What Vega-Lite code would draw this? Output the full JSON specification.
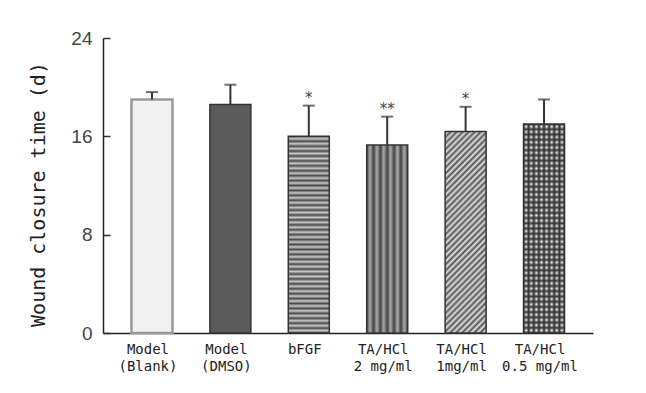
{
  "$schema": "https://vega.github.io/schema/vega-lite/v6.json",
  "width": 490,
  "height": 295,
  "autosize": "none",
  "padding": {"left": 103, "top": 38, "right": 53, "bottom": 60},
  "background": "white",
  "config": {"view": {"stroke": null}},
  "data": {
    "values": [
      {"group": "Model|(Blank)", "mean": 19.0, "hi": 19.6, "sig": ""},
      {"group": "Model|(DMSO)", "mean": 18.6, "hi": 20.2, "sig": ""},
      {"group": "bFGF", "mean": 16.0, "hi": 18.5, "sig": "*"},
      {"group": "TA/HCl|2 mg/ml", "mean": 15.3, "hi": 17.6, "sig": "**"},
      {"group": "TA/HCl|1mg/ml", "mean": 16.4, "hi": 18.4, "sig": "*"},
      {"group": "TA/HCl|0.5 mg/ml", "mean": 17.0, "hi": 19.0, "sig": ""}
    ]
  },
  "encoding": {
    "x": {
      "field": "group", "type": "nominal",
      "scale": {"domain": ["Model|(Blank)", "Model|(DMSO)", "bFGF", "TA/HCl|2 mg/ml", "TA/HCl|1mg/ml", "TA/HCl|0.5 mg/ml"], "paddingInner": 0.477, "paddingOuter": 0.363},
      "axis": {"title": null, "labelAngle": 0, "labelExpr": "split(datum.label, '|')", "ticks": false, "domainColor": "#222", "domainWidth": 1.5, "labelFont": "DejaVu Sans Mono", "labelFontSize": 14, "labelColor": "#222", "labelPadding": 9, "labelLineHeight": 17, "labelBaseline": "top", "labelOffset": -4}
    }
  },
  "layer": [
    {
      "transform": [{"filter": "datum.group == 'Model|(Blank)'"}],
      "mark": {"type": "bar", "fill": "#f2f2f2", "stroke": "#999", "strokeWidth": 2.5},
      "encoding": {
        "y": {"field": "mean", "type": "quantitative", "scale": {"domain": [0, 24], "nice": false},
          "axis": {"values": [0, 8, 16, 24], "grid": false, "tickSize": -7, "tickColor": "#333", "tickWidth": 1.5, "labelPadding": 18, "domainColor": "#222", "domainWidth": 1.5, "labelFont": "Liberation Sans", "labelFontSize": 19, "labelColor": "#444", "title": "Wound closure time (d)", "titleFont": "DejaVu Sans Mono", "titleFontSize": 20, "titleFontWeight": "normal", "titleColor": "#222", "titleX": -65, "titleY": 156, "titleAngle": -90, "titleAlign": "center", "titleBaseline": "middle"}
        }
      }
    },
    {
      "transform": [{"filter": "datum.group == 'Model|(DMSO)'"}],
      "mark": {"type": "bar", "fill": "#5a5a5a", "stroke": "#333", "strokeWidth": 1.5},
      "encoding": {"y": {"field": "mean", "type": "quantitative"}}
    },
    {
      "transform": [{"filter": "datum.group == 'bFGF'"}],
      "mark": {"type": "bar", "stroke": "#333", "strokeWidth": 1.5,
        "fill": {"gradient": "linear", "x1": 0, "y1": 0, "x2": 0, "y2": 1, "stops": [
          {"offset": 0, "color": "#4a4a4a"}, {"offset": 0.0125, "color": "#c8c8c8"}, {"offset": 0.025, "color": "#4a4a4a"}, {"offset": 0.0375, "color": "#c8c8c8"},
          {"offset": 0.05, "color": "#4a4a4a"}, {"offset": 0.0625, "color": "#c8c8c8"}, {"offset": 0.075, "color": "#4a4a4a"}, {"offset": 0.0875, "color": "#c8c8c8"},
          {"offset": 0.1, "color": "#4a4a4a"}, {"offset": 0.1125, "color": "#c8c8c8"}, {"offset": 0.125, "color": "#4a4a4a"}, {"offset": 0.1375, "color": "#c8c8c8"},
          {"offset": 0.15, "color": "#4a4a4a"}, {"offset": 0.1625, "color": "#c8c8c8"}, {"offset": 0.175, "color": "#4a4a4a"}, {"offset": 0.1875, "color": "#c8c8c8"},
          {"offset": 0.2, "color": "#4a4a4a"}, {"offset": 0.2125, "color": "#c8c8c8"}, {"offset": 0.225, "color": "#4a4a4a"}, {"offset": 0.2375, "color": "#c8c8c8"},
          {"offset": 0.25, "color": "#4a4a4a"}, {"offset": 0.2625, "color": "#c8c8c8"}, {"offset": 0.275, "color": "#4a4a4a"}, {"offset": 0.2875, "color": "#c8c8c8"},
          {"offset": 0.3, "color": "#4a4a4a"}, {"offset": 0.3125, "color": "#c8c8c8"}, {"offset": 0.325, "color": "#4a4a4a"}, {"offset": 0.3375, "color": "#c8c8c8"},
          {"offset": 0.35, "color": "#4a4a4a"}, {"offset": 0.3625, "color": "#c8c8c8"}, {"offset": 0.375, "color": "#4a4a4a"}, {"offset": 0.3875, "color": "#c8c8c8"},
          {"offset": 0.4, "color": "#4a4a4a"}, {"offset": 0.4125, "color": "#c8c8c8"}, {"offset": 0.425, "color": "#4a4a4a"}, {"offset": 0.4375, "color": "#c8c8c8"},
          {"offset": 0.45, "color": "#4a4a4a"}, {"offset": 0.4625, "color": "#c8c8c8"}, {"offset": 0.475, "color": "#4a4a4a"}, {"offset": 0.4875, "color": "#c8c8c8"},
          {"offset": 0.5, "color": "#4a4a4a"}, {"offset": 0.5125, "color": "#c8c8c8"}, {"offset": 0.525, "color": "#4a4a4a"}, {"offset": 0.5375, "color": "#c8c8c8"},
          {"offset": 0.55, "color": "#4a4a4a"}, {"offset": 0.5625, "color": "#c8c8c8"}, {"offset": 0.575, "color": "#4a4a4a"}, {"offset": 0.5875, "color": "#c8c8c8"},
          {"offset": 0.6, "color": "#4a4a4a"}, {"offset": 0.6125, "color": "#c8c8c8"}, {"offset": 0.625, "color": "#4a4a4a"}, {"offset": 0.6375, "color": "#c8c8c8"},
          {"offset": 0.65, "color": "#4a4a4a"}, {"offset": 0.6625, "color": "#c8c8c8"}, {"offset": 0.675, "color": "#4a4a4a"}, {"offset": 0.6875, "color": "#c8c8c8"},
          {"offset": 0.7, "color": "#4a4a4a"}, {"offset": 0.7125, "color": "#c8c8c8"}, {"offset": 0.725, "color": "#4a4a4a"}, {"offset": 0.7375, "color": "#c8c8c8"},
          {"offset": 0.75, "color": "#4a4a4a"}, {"offset": 0.7625, "color": "#c8c8c8"}, {"offset": 0.775, "color": "#4a4a4a"}, {"offset": 0.7875, "color": "#c8c8c8"},
          {"offset": 0.8, "color": "#4a4a4a"}, {"offset": 0.8125, "color": "#c8c8c8"}, {"offset": 0.825, "color": "#4a4a4a"}, {"offset": 0.8375, "color": "#c8c8c8"},
          {"offset": 0.85, "color": "#4a4a4a"}, {"offset": 0.8625, "color": "#c8c8c8"}, {"offset": 0.875, "color": "#4a4a4a"}, {"offset": 0.8875, "color": "#c8c8c8"},
          {"offset": 0.9, "color": "#4a4a4a"}, {"offset": 0.9125, "color": "#c8c8c8"}, {"offset": 0.925, "color": "#4a4a4a"}, {"offset": 0.9375, "color": "#c8c8c8"},
          {"offset": 0.95, "color": "#4a4a4a"}, {"offset": 0.9625, "color": "#c8c8c8"}, {"offset": 0.975, "color": "#4a4a4a"}, {"offset": 0.9875, "color": "#c8c8c8"},
          {"offset": 1, "color": "#4a4a4a"}
        ]}},
      "encoding": {"y": {"field": "mean", "type": "quantitative"}}
    },
    {
      "transform": [{"filter": "datum.group == 'TA/HCl|2 mg/ml'"}],
      "mark": {"type": "bar", "stroke": "#333", "strokeWidth": 1.5,
        "fill": {"gradient": "linear", "x1": 0, "y1": 0, "x2": 1, "y2": 0, "stops": [
          {"offset": 0, "color": "#444"}, {"offset": 0.0833, "color": "#aaa"}, {"offset": 0.1667, "color": "#444"}, {"offset": 0.25, "color": "#aaa"},
          {"offset": 0.3333, "color": "#444"}, {"offset": 0.4167, "color": "#aaa"}, {"offset": 0.5, "color": "#444"}, {"offset": 0.5833, "color": "#aaa"},
          {"offset": 0.6667, "color": "#444"}, {"offset": 0.75, "color": "#aaa"}, {"offset": 0.8333, "color": "#444"}, {"offset": 0.9167, "color": "#aaa"},
          {"offset": 1, "color": "#444"}
        ]}},
      "encoding": {"y": {"field": "mean", "type": "quantitative"}}
    },
    {
      "transform": [{"filter": "datum.group == 'TA/HCl|1mg/ml'"}],
      "mark": {"type": "bar", "stroke": "#333", "strokeWidth": 1.5,
        "fill": {"gradient": "linear", "x1": 0, "y1": 0, "x2": 0.237, "y2": 1.156, "stops": [
          {"offset": 0, "color": "#555"}, {"offset": 0.0125, "color": "#e0e0e0"}, {"offset": 0.025, "color": "#555"}, {"offset": 0.0375, "color": "#e0e0e0"},
          {"offset": 0.05, "color": "#555"}, {"offset": 0.0625, "color": "#e0e0e0"}, {"offset": 0.075, "color": "#555"}, {"offset": 0.0875, "color": "#e0e0e0"},
          {"offset": 0.1, "color": "#555"}, {"offset": 0.1125, "color": "#e0e0e0"}, {"offset": 0.125, "color": "#555"}, {"offset": 0.1375, "color": "#e0e0e0"},
          {"offset": 0.15, "color": "#555"}, {"offset": 0.1625, "color": "#e0e0e0"}, {"offset": 0.175, "color": "#555"}, {"offset": 0.1875, "color": "#e0e0e0"},
          {"offset": 0.2, "color": "#555"}, {"offset": 0.2125, "color": "#e0e0e0"}, {"offset": 0.225, "color": "#555"}, {"offset": 0.2375, "color": "#e0e0e0"},
          {"offset": 0.25, "color": "#555"}, {"offset": 0.2625, "color": "#e0e0e0"}, {"offset": 0.275, "color": "#555"}, {"offset": 0.2875, "color": "#e0e0e0"},
          {"offset": 0.3, "color": "#555"}, {"offset": 0.3125, "color": "#e0e0e0"}, {"offset": 0.325, "color": "#555"}, {"offset": 0.3375, "color": "#e0e0e0"},
          {"offset": 0.35, "color": "#555"}, {"offset": 0.3625, "color": "#e0e0e0"}, {"offset": 0.375, "color": "#555"}, {"offset": 0.3875, "color": "#e0e0e0"},
          {"offset": 0.4, "color": "#555"}, {"offset": 0.4125, "color": "#e0e0e0"}, {"offset": 0.425, "color": "#555"}, {"offset": 0.4375, "color": "#e0e0e0"},
          {"offset": 0.45, "color": "#555"}, {"offset": 0.4625, "color": "#e0e0e0"}, {"offset": 0.475, "color": "#555"}, {"offset": 0.4875, "color": "#e0e0e0"},
          {"offset": 0.5, "color": "#555"}, {"offset": 0.5125, "color": "#e0e0e0"}, {"offset": 0.525, "color": "#555"}, {"offset": 0.5375, "color": "#e0e0e0"},
          {"offset": 0.55, "color": "#555"}, {"offset": 0.5625, "color": "#e0e0e0"}, {"offset": 0.575, "color": "#555"}, {"offset": 0.5875, "color": "#e0e0e0"},
          {"offset": 0.6, "color": "#555"}, {"offset": 0.6125, "color": "#e0e0e0"}, {"offset": 0.625, "color": "#555"}, {"offset": 0.6375, "color": "#e0e0e0"},
          {"offset": 0.65, "color": "#555"}, {"offset": 0.6625, "color": "#e0e0e0"}, {"offset": 0.675, "color": "#555"}, {"offset": 0.6875, "color": "#e0e0e0"},
          {"offset": 0.7, "color": "#555"}, {"offset": 0.7125, "color": "#e0e0e0"}, {"offset": 0.725, "color": "#555"}, {"offset": 0.7375, "color": "#e0e0e0"},
          {"offset": 0.75, "color": "#555"}, {"offset": 0.7625, "color": "#e0e0e0"}, {"offset": 0.775, "color": "#555"}, {"offset": 0.7875, "color": "#e0e0e0"},
          {"offset": 0.8, "color": "#555"}, {"offset": 0.8125, "color": "#e0e0e0"}, {"offset": 0.825, "color": "#555"}, {"offset": 0.8375, "color": "#e0e0e0"},
          {"offset": 0.85, "color": "#555"}, {"offset": 0.8625, "color": "#e0e0e0"}, {"offset": 0.875, "color": "#555"}, {"offset": 0.8875, "color": "#e0e0e0"},
          {"offset": 0.9, "color": "#555"}, {"offset": 0.9125, "color": "#e0e0e0"}, {"offset": 0.925, "color": "#555"}, {"offset": 0.9375, "color": "#e0e0e0"},
          {"offset": 0.95, "color": "#555"}, {"offset": 0.9625, "color": "#e0e0e0"}, {"offset": 0.975, "color": "#555"}, {"offset": 0.9875, "color": "#e0e0e0"},
          {"offset": 1, "color": "#555"}
        ]}},
      "encoding": {"y": {"field": "mean", "type": "quantitative"}}
    },
    {
      "transform": [{"filter": "datum.group == 'TA/HCl|0.5 mg/ml'"}],
      "mark": {"type": "bar", "stroke": "#333", "strokeWidth": 1.5,
        "fill": {"gradient": "linear", "x1": 0, "y1": 0, "x2": 1, "y2": 0, "stops": [
          {"offset": 0, "color": "#333"}, {"offset": 0.0625, "color": "#fff"}, {"offset": 0.125, "color": "#333"}, {"offset": 0.1875, "color": "#fff"},
          {"offset": 0.25, "color": "#333"}, {"offset": 0.3125, "color": "#fff"}, {"offset": 0.375, "color": "#333"}, {"offset": 0.4375, "color": "#fff"},
          {"offset": 0.5, "color": "#333"}, {"offset": 0.5625, "color": "#fff"}, {"offset": 0.625, "color": "#333"}, {"offset": 0.6875, "color": "#fff"},
          {"offset": 0.75, "color": "#333"}, {"offset": 0.8125, "color": "#fff"}, {"offset": 0.875, "color": "#333"}, {"offset": 0.9375, "color": "#fff"},
          {"offset": 1, "color": "#333"}
        ]}},
      "encoding": {"y": {"field": "mean", "type": "quantitative"}}
    },
    {
      "transform": [{"filter": "datum.group == 'TA/HCl|0.5 mg/ml'"}],
      "mark": {"type": "bar", "strokeWidth": 0,
        "fill": {"gradient": "linear", "x1": 0, "y1": 0, "x2": 0, "y2": 1, "stops": [
          {"offset": 0, "color": "rgba(51,51,51,0.95)"}, {"offset": 0.0125, "color": "rgba(51,51,51,0)"}, {"offset": 0.025, "color": "rgba(51,51,51,0.95)"}, {"offset": 0.0375, "color": "rgba(51,51,51,0)"},
          {"offset": 0.05, "color": "rgba(51,51,51,0.95)"}, {"offset": 0.0625, "color": "rgba(51,51,51,0)"}, {"offset": 0.075, "color": "rgba(51,51,51,0.95)"}, {"offset": 0.0875, "color": "rgba(51,51,51,0)"},
          {"offset": 0.1, "color": "rgba(51,51,51,0.95)"}, {"offset": 0.1125, "color": "rgba(51,51,51,0)"}, {"offset": 0.125, "color": "rgba(51,51,51,0.95)"}, {"offset": 0.1375, "color": "rgba(51,51,51,0)"},
          {"offset": 0.15, "color": "rgba(51,51,51,0.95)"}, {"offset": 0.1625, "color": "rgba(51,51,51,0)"}, {"offset": 0.175, "color": "rgba(51,51,51,0.95)"}, {"offset": 0.1875, "color": "rgba(51,51,51,0)"},
          {"offset": 0.2, "color": "rgba(51,51,51,0.95)"}, {"offset": 0.2125, "color": "rgba(51,51,51,0)"}, {"offset": 0.225, "color": "rgba(51,51,51,0.95)"}, {"offset": 0.2375, "color": "rgba(51,51,51,0)"},
          {"offset": 0.25, "color": "rgba(51,51,51,0.95)"}, {"offset": 0.2625, "color": "rgba(51,51,51,0)"}, {"offset": 0.275, "color": "rgba(51,51,51,0.95)"}, {"offset": 0.2875, "color": "rgba(51,51,51,0)"},
          {"offset": 0.3, "color": "rgba(51,51,51,0.95)"}, {"offset": 0.3125, "color": "rgba(51,51,51,0)"}, {"offset": 0.325, "color": "rgba(51,51,51,0.95)"}, {"offset": 0.3375, "color": "rgba(51,51,51,0)"},
          {"offset": 0.35, "color": "rgba(51,51,51,0.95)"}, {"offset": 0.3625, "color": "rgba(51,51,51,0)"}, {"offset": 0.375, "color": "rgba(51,51,51,0.95)"}, {"offset": 0.3875, "color": "rgba(51,51,51,0)"},
          {"offset": 0.4, "color": "rgba(51,51,51,0.95)"}, {"offset": 0.4125, "color": "rgba(51,51,51,0)"}, {"offset": 0.425, "color": "rgba(51,51,51,0.95)"}, {"offset": 0.4375, "color": "rgba(51,51,51,0)"},
          {"offset": 0.45, "color": "rgba(51,51,51,0.95)"}, {"offset": 0.4625, "color": "rgba(51,51,51,0)"}, {"offset": 0.475, "color": "rgba(51,51,51,0.95)"}, {"offset": 0.4875, "color": "rgba(51,51,51,0)"},
          {"offset": 0.5, "color": "rgba(51,51,51,0.95)"}, {"offset": 0.5125, "color": "rgba(51,51,51,0)"}, {"offset": 0.525, "color": "rgba(51,51,51,0.95)"}, {"offset": 0.5375, "color": "rgba(51,51,51,0)"},
          {"offset": 0.55, "color": "rgba(51,51,51,0.95)"}, {"offset": 0.5625, "color": "rgba(51,51,51,0)"}, {"offset": 0.575, "color": "rgba(51,51,51,0.95)"}, {"offset": 0.5875, "color": "rgba(51,51,51,0)"},
          {"offset": 0.6, "color": "rgba(51,51,51,0.95)"}, {"offset": 0.6125, "color": "rgba(51,51,51,0)"}, {"offset": 0.625, "color": "rgba(51,51,51,0.95)"}, {"offset": 0.6375, "color": "rgba(51,51,51,0)"},
          {"offset": 0.65, "color": "rgba(51,51,51,0.95)"}, {"offset": 0.6625, "color": "rgba(51,51,51,0)"}, {"offset": 0.675, "color": "rgba(51,51,51,0.95)"}, {"offset": 0.6875, "color": "rgba(51,51,51,0)"},
          {"offset": 0.7, "color": "rgba(51,51,51,0.95)"}, {"offset": 0.7125, "color": "rgba(51,51,51,0)"}, {"offset": 0.725, "color": "rgba(51,51,51,0.95)"}, {"offset": 0.7375, "color": "rgba(51,51,51,0)"},
          {"offset": 0.75, "color": "rgba(51,51,51,0.95)"}, {"offset": 0.7625, "color": "rgba(51,51,51,0)"}, {"offset": 0.775, "color": "rgba(51,51,51,0.95)"}, {"offset": 0.7875, "color": "rgba(51,51,51,0)"},
          {"offset": 0.8, "color": "rgba(51,51,51,0.95)"}, {"offset": 0.8125, "color": "rgba(51,51,51,0)"}, {"offset": 0.825, "color": "rgba(51,51,51,0.95)"}, {"offset": 0.8375, "color": "rgba(51,51,51,0)"},
          {"offset": 0.85, "color": "rgba(51,51,51,0.95)"}, {"offset": 0.8625, "color": "rgba(51,51,51,0)"}, {"offset": 0.875, "color": "rgba(51,51,51,0.95)"}, {"offset": 0.8875, "color": "rgba(51,51,51,0)"},
          {"offset": 0.9, "color": "rgba(51,51,51,0.95)"}, {"offset": 0.9125, "color": "rgba(51,51,51,0)"}, {"offset": 0.925, "color": "rgba(51,51,51,0.95)"}, {"offset": 0.9375, "color": "rgba(51,51,51,0)"},
          {"offset": 0.95, "color": "rgba(51,51,51,0.95)"}, {"offset": 0.9625, "color": "rgba(51,51,51,0)"}, {"offset": 0.975, "color": "rgba(51,51,51,0.95)"}, {"offset": 0.9875, "color": "rgba(51,51,51,0)"},
          {"offset": 1, "color": "rgba(51,51,51,0.95)"}
        ]}},
      "encoding": {"y": {"field": "mean", "type": "quantitative"}}
    },
    {
      "mark": {"type": "rule", "color": "#333", "strokeWidth": 2},
      "encoding": {"y": {"field": "mean", "type": "quantitative"}, "y2": {"field": "hi"}}
    },
    {
      "mark": {"type": "tick", "color": "#333", "thickness": 2, "size": 12},
      "encoding": {"y": {"field": "hi", "type": "quantitative"}}
    },
    {
      "mark": {"type": "text", "color": "#444", "fontSize": 15, "font": "DejaVu Sans", "baseline": "bottom", "dy": 0},
      "encoding": {"y": {"field": "hi", "type": "quantitative"}, "text": {"field": "sig"}}
    }
  ]
}
